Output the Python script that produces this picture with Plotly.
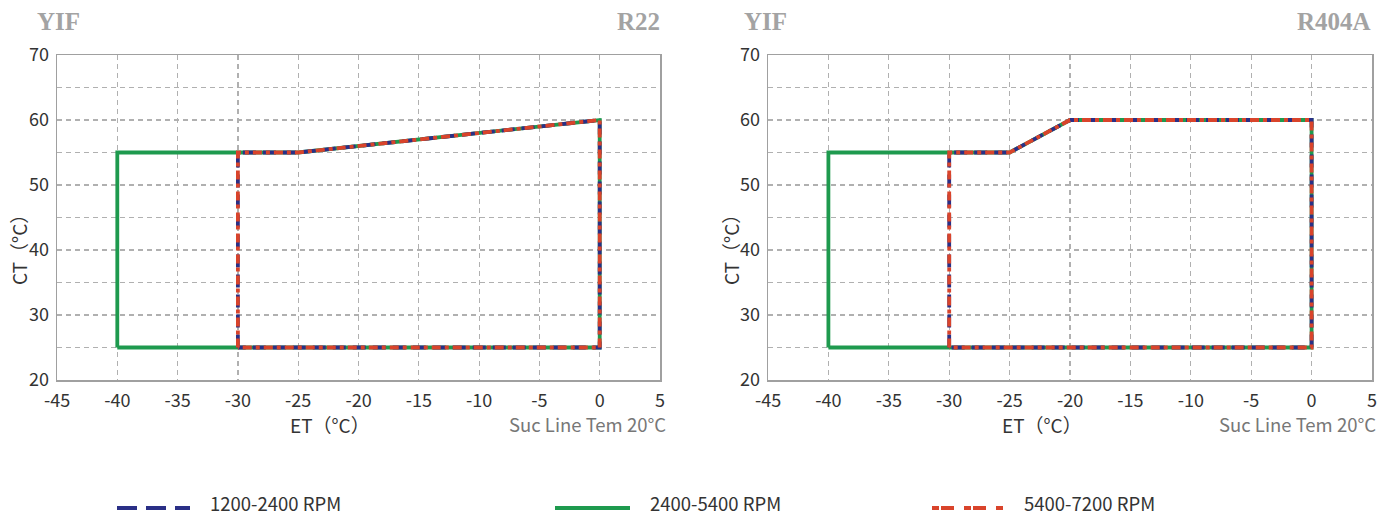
import plotly.graph_objects as go

# ---------------- data ----------------
series_names = ["1200-2400 RPM", "2400-5400 RPM", "5400-7200 RPM"]
series_colors = ["#2a2f86", "#1e9a4e", "#d9442b"]

# R22 envelope
r22_green_et = [-40, -40, -30, -25, 0, 0, -40]
r22_green_ct = [25, 55, 55, 55, 60, 25, 25]
r22_low_et = [-30, -30, -25, 0, 0, -30]      # 1200-2400 and 5400-7200
r22_low_ct = [25, 55, 55, 60, 25, 25]

# R404A envelope
r404_green_et = [-40, -40, -30, -25, -20, 0, 0, -40]
r404_green_ct = [25, 55, 55, 55, 60, 60, 25, 25]
r404_low_et = [-30, -30, -25, -20, 0, 0, -30]
r404_low_ct = [25, 55, 55, 60, 60, 25, 25]

x_ticks = [-45, -40, -35, -30, -25, -20, -15, -10, -5, 0, 5]
x_ticklabels = ["-45", "-40", "-35", "-30", "-25", "-20", "-15", "-10", "-5", "0", "5"]
y_ticks = [20, 30, 40, 50, 60, 70]
panel_titles_left = ["YIF", "YIF"]
panel_titles_right = ["R22", "R404A"]

FONT = "Noto Sans CJK SC"
W, H = 1392, 519

fig = go.Figure()

dash_blue = "13px,7px"
dash_red = "9px,4px,4px,4px"
w = 3.8

def add_panel(xa, ya, g_et, g_ct, l_et, l_ct):
    fig.add_trace(go.Scatter(x=g_et, y=g_ct, mode="lines", xaxis=xa, yaxis=ya,
                             line=dict(color=series_colors[1], width=w), showlegend=False,
                             hoverinfo="skip"))
    fig.add_trace(go.Scatter(x=l_et, y=l_ct, mode="lines", xaxis=xa, yaxis=ya,
                             line=dict(color=series_colors[0], width=w, dash=dash_blue),
                             showlegend=False, hoverinfo="skip"))
    fig.add_trace(go.Scatter(x=l_et, y=l_ct, mode="lines", xaxis=xa, yaxis=ya,
                             line=dict(color=series_colors[2], width=w, dash=dash_red),
                             showlegend=False, hoverinfo="skip"))

add_panel("x", "y", r22_green_et, r22_green_ct, r22_low_et, r22_low_ct)
add_panel("x2", "y2", r404_green_et, r404_green_ct, r404_low_et, r404_low_ct)

def px_x(p):
    return p / W

def px_y(p):
    return 1 - p / H

grid = dict(gridcolor="#b0b0b0", griddash="5px,4px", gridwidth=1.2)
xcommon = dict(range=[-45, 5], tickvals=x_ticks, ticktext=x_ticklabels, showgrid=True, **grid,
               showline=True, mirror=True, linecolor="#a0a0a0", linewidth=1.5,
               zeroline=False, ticks="", ticklabelstandoff=4,
               tickfont=dict(family=FONT, size=18, color="#333"),
               fixedrange=True, automargin=False)
ycommon = dict(range=[20, 70], tickvals=y_ticks, showgrid=True, **grid,
               minor=dict(dtick=5, tick0=0, showgrid=True, gridcolor="#b0b0b0",
                          griddash="5px,4px", gridwidth=1.2),
               showline=True, mirror=True, linecolor="#a0a0a0", linewidth=1.5,
               zeroline=False, ticks="", ticklabelstandoff=3,
               tickfont=dict(family=FONT, size=18, color="#333"),
               fixedrange=True, automargin=False)

ydom = [px_y(380), px_y(55)]
fig.update_layout(
    width=W, height=H, autosize=False,
    margin=dict(l=0, r=0, t=0, b=0, pad=0, autoexpand=False),
    paper_bgcolor="white", plot_bgcolor="white",
    showlegend=False,
    xaxis=dict(domain=[px_x(57), px_x(660)], anchor="y", **xcommon),
    yaxis=dict(domain=ydom, anchor="x", **ycommon),
    xaxis2=dict(domain=[px_x(768), px_x(1372)], anchor="y2", **xcommon),
    yaxis2=dict(domain=ydom, anchor="x2", **ycommon),
)

ann = []
# panel headers
for xl, xr, tl, tr in [(35, 662, panel_titles_left[0], panel_titles_right[0]),
                       (742, 1373, panel_titles_left[1], panel_titles_right[1])]:
    ann.append(dict(x=px_x(xl), y=px_y(21), xref="paper", yref="paper", text=tl,
                    showarrow=False, xanchor="left", yanchor="middle",
                    font=dict(family="Liberation Serif", size=25, color="#a3a3a3", weight="bold")))
    ann.append(dict(x=px_x(xr), y=px_y(21), xref="paper", yref="paper", text=tr,
                    showarrow=False, xanchor="right", yanchor="middle",
                    font=dict(family="Liberation Serif", size=25, color="#a3a3a3", weight="bold")))
# axis titles
for xc, xr, yx in [(330, 668, 18), (1042, 1378, 730)]:
    ann.append(dict(x=px_x(xc), y=px_y(424), xref="paper", yref="paper", text="ET（°C）",
                    showarrow=False, xanchor="center", yanchor="middle",
                    font=dict(family=FONT, size=19, color="#333")))
    ann.append(dict(x=px_x(xr), y=px_y(424), xref="paper", yref="paper", text="Suc Line Tem 20°C",
                    showarrow=False, xanchor="right", yanchor="middle",
                    font=dict(family=FONT, size=18.5, color="#777")))
    ann.append(dict(x=px_x(yx), y=px_y(245), xref="paper", yref="paper", text="CT（°C）",
                    showarrow=False, xanchor="center", yanchor="middle", textangle=-90,
                    font=dict(family=FONT, size=19, color="#333")))

# custom legend
shapes = []
leg = [(117, 190, 208, "20px,9px"), (555, 630, 648, "solid"), (932, 1005, 1022, "7px,2px,13px,10px")]
for i, (x0, x1, xt, dsh) in enumerate(leg):
    shapes.append(dict(type="line", xref="paper", yref="paper",
                       x0=px_x(x0), x1=px_x(x1), y0=px_y(508), y1=px_y(508),
                       line=dict(color=series_colors[i], width=4, dash=dsh)))
    ann.append(dict(x=px_x(xt), y=px_y(518), xref="paper", yref="paper", text=series_names[i],
                    showarrow=False, xanchor="left", yanchor="bottom",
                    font=dict(family=FONT, size=18.5, color="#333")))

fig.update_layout(annotations=ann, shapes=shapes)
fig.write_html(
    "out.html",
    config={"displayModeBar": False, "staticPlot": True},
    post_script="document.body.style.margin='0px';document.body.style.overflow='hidden';",
)
